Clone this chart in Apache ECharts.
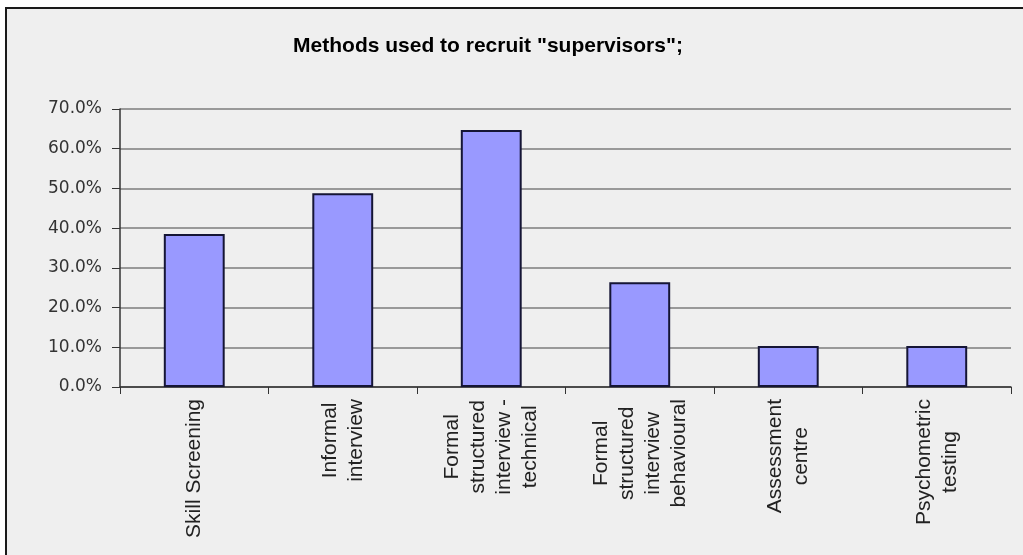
<!DOCTYPE html>
<html>
<head>
<meta charset="utf-8">
<script src="https://cdn.jsdelivr.net/npm/echarts@6/dist/echarts.min.js"></script>
<style>
  html, body { margin: 0; padding: 0; background: #ffffff; }
  #frame { position: absolute; left: 5px; top: 7px; width: 1100px; height: 700px;
           background: #efefef; border-left: 2px solid #1a1a1a; border-top: 2px solid #1a1a1a; }
  #chart { position: absolute; left: 0; top: 0; width: 1023px; height: 555px; }
</style>
</head>
<body>
<div id="frame"></div>
<div id="chart"></div>
<script>
const titleText = 'Methods used to recruit "supervisors";';
const categories = [
  'Skill Screening',
  'Informal\ninterview',
  'Formal\nstructured\ninterview -\ntechnical',
  'Formal\nstructured\ninterview\nbehavioural',
  'Assessment\ncentre',
  'Psychometric\ntesting'
];
const values = [38.5, 48.8, 64.7, 26.4, 10.3, 10.3];
const yMin = 0, yMax = 70, yInterval = 10;

const chart = echarts.init(document.getElementById('chart'), null, { renderer: 'canvas' });
chart.setOption({
  backgroundColor: 'transparent',
  animation: false,
  title: {
    text: titleText,
    left: 483, top: 31, textAlign: 'center',
    textStyle: { fontFamily: 'Liberation Sans', fontSize: 21, fontWeight: 'bold', color: '#000' }
  },
  grid: { left: 120, right: 12, top: 109, bottom: 168, containLabel: false },
  xAxis: {
    type: 'category',
    data: categories,
    boundaryGap: true,
    axisLine: { lineStyle: { color: '#333', width: 1.5 } },
    axisTick: { show: true, alignWithLabel: false, length: 7, lineStyle: { color: '#333', width: 1 } },
    axisLabel: {
      interval: 0, rotate: 90, margin: 12,
      formatter: v => v.split('\n').map(l => '{c|' + l + '}').join('\n'),
      rich: { c: { fontFamily: 'Liberation Sans', fontSize: 21, lineHeight: 26, align: 'center', color: '#222' } }
    },
    splitLine: { show: false }
  },
  yAxis: {
    type: 'value', min: yMin, max: yMax, interval: yInterval,
    axisLine: { show: true, lineStyle: { color: '#333', width: 1.5 } },
    axisTick: { show: true, length: 8, lineStyle: { color: '#333', width: 1 } },
    axisLabel: {
      margin: 18, fontFamily: 'DejaVu Sans', fontSize: 17, color: '#333',
      formatter: v => v.toFixed(1) + '%'
    },
    splitLine: { show: true, lineStyle: { color: '#7d7d7d', width: 1.5 } }
  },
  series: [{
    type: 'bar',
    data: values,
    barWidth: '41%',
    itemStyle: { color: '#9999ff', borderColor: '#151535', borderWidth: 2 }
  }]
});
</script>
</body>
</html>
